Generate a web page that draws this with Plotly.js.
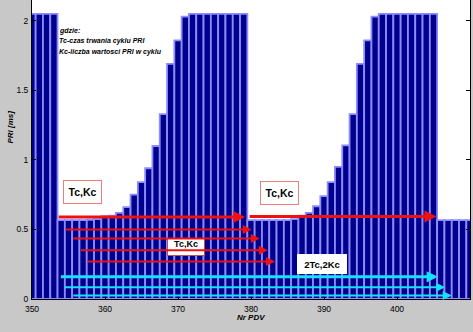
<!DOCTYPE html>
<html>
<head>
<meta charset="utf-8">
<script src="https://cdn.plot.ly/plotly-3.0.1.min.js"></script>
<style>html,body{margin:0;padding:0;background:#c8c8c8;}#chart{width:473px;height:332px;}</style>
</head>
<body>
<div id="chart"></div>
<script>
// PDV numbers (x categories)
var pdvNumbers = [350,351,352,353,354,355,356,357,358,359,
  360,361,362,363,364,365,366,367,368,369,
  370,371,372,373,374,375,376,377,378,379,
  380,381,382,383,384,385,386,387,388,389,
  390,391,392,393,394,395,396,397,398,399,
  400,401,402,403,404,405,406,407,408,409,410];
// PRI values [ms]
var priValues = [2.05,2.05,2.05,2.05,0.567,0.567,0.567,0.567,0.57,0.575,
  0.595,0.60,0.62,0.66,0.75,0.84,0.94,1.10,1.33,1.69,
  1.86,2.03,2.05,2.05,2.05,2.05,2.05,2.05,2.05,2.05,
  0.567,0.567,0.567,0.567,0.567,0.567,0.575,0.60,0.62,0.667,
  0.74,0.84,0.95,1.105,1.33,1.69,1.86,2.03,2.05,2.05,
  2.05,2.05,2.05,2.05,2.05,2.05,0.567,0.567,0.567,0.567,0.567];

var xTickVals = [350,360,370,380,390,400,410];
var xTickText = ['350','360','370','380','390','400','410'];
var yTickVals = [0,0.5,1,1.5,2];
var yTickText = ['0','0.5','1','1.5','2'];

// arrows: start x, end x (tip), level y
var redArrowStart = [353.45,379.6,354.4,355.45,356.5,357.4];
var redArrowEnd   = [379.2,405.4,380.1,381.2,382.3,383.3];
var redArrowY     = [0.59,0.593,0.50,0.435,0.35,0.27];
var redArrowWidth = [3,3,2,2,2,2];
var cyanArrowStart = [353.75,354.3,355.45];
var cyanArrowEnd   = [405.6,406.6,407.5];
var cyanArrowY     = [0.16,0.085,0.026];
var cyanArrowWidth = [3,2,2];

// text boxes
var boxText = ['Tc,Kc','Tc,Kc','Tc,Kc','2Tc,2Kc'];
var boxX = [356.9,383.97,371.1,389.66];
var boxY = [0.766,0.763,0.372,0.252];

var noteLines = ['gdzie:','Tc-czas trwania cyklu PRI','Kc-liczba wartosci PRI w cyklu'];

var trace = {
  type:'bar', x:pdvNumbers, y:priValues,
  marker:{color:'#00008c', line:{color:'#8c8cff', width:1.8}},
  hoverinfo:'none'
};

var annotations = [];
var boxW = [37,37,36,48], boxH = [22,22,16,18], boxFs = [10.5,10.5,9,9.5];
var boxVal = ['middle','middle','top','middle'];
var boxBorder = ['#e88080','#e88080','#c05050','#ffffff'];
for (var i=0;i<boxText.length;i++){
  annotations.push({xref:'x',yref:'y',x:boxX[i],y:boxY[i],text:'<b>'+boxText[i]+'</b>',
    showarrow:false,bgcolor:'#ffffff',bordercolor:boxBorder[i],borderwidth:1,borderpad:0,valign:boxVal[i],
    width:boxW[i],height:boxH[i],font:{family:'Arial',size:boxFs[i],color:'#000'}});
}
for (var i=0;i<redArrowStart.length;i++){
  annotations.push({xref:'x',yref:'y',axref:'x',ayref:'y',x:redArrowEnd[i],y:redArrowY[i],
    ax:redArrowStart[i],ay:redArrowY[i],text:'',showarrow:true,arrowhead:2,
    arrowsize:redArrowWidth[i]===3?0.8:0.9,arrowwidth:redArrowWidth[i],arrowcolor:'#f01010',standoff:0});
}
for (var i=0;i<cyanArrowStart.length;i++){
  annotations.push({xref:'x',yref:'y',axref:'x',ayref:'y',x:cyanArrowEnd[i],y:cyanArrowY[i],
    ax:cyanArrowStart[i],ay:cyanArrowY[i],text:'',showarrow:true,arrowhead:2,
    arrowsize:cyanArrowWidth[i]===3?0.75:0.9,arrowwidth:cyanArrowWidth[i],arrowcolor:'#18e0ff',standoff:0});
}
var noteY = [0.896,0.862,0.826];
for (var i=0;i<noteLines.length;i++){
  annotations.push({xref:'paper',yref:'paper',x:0.056,y:noteY[i],xanchor:'left',yanchor:'middle',align:'left',
    text:'<b><i>'+noteLines[i]+'</i></b>',showarrow:false,font:{family:'Arial',size:7,color:'#000'}});
}
annotations.push({xref:'paper',yref:'paper',x:0.5,y:-0.062,xanchor:'center',yanchor:'middle',
  text:'<b><i>Nr PDV</i></b>',showarrow:false,font:{family:'Arial',size:8,color:'#000'}});
annotations.push({xref:'paper',yref:'y',x:-0.048,y:1.24,xanchor:'center',yanchor:'middle',textangle:-90,
  text:'<b><i>PRI [ms]</i></b>',showarrow:false,font:{family:'Arial',size:8,color:'#000'}});

var layout = {
  width:473, height:332,
  margin:{l:32,r:3,t:0,b:33,pad:0},
  paper_bgcolor:'#c8c8c8', plot_bgcolor:'#ffffff',
  bargap:0, showlegend:false,
  xaxis:{range:[350,410],tickvals:xTickVals,ticktext:xTickText,ticks:'inside',ticklen:4,tickcolor:'#000',
    showline:true,linecolor:'#000',linewidth:1,zeroline:false,showgrid:false,ticklabelstandoff:2,
    tickfont:{family:'Arial',size:8.5,color:'#000'}},
  yaxis:{range:[0,2.15],tickvals:yTickVals,ticktext:yTickText,ticks:'inside',ticklen:4,tickcolor:'#000',
    showline:true,linecolor:'#000',linewidth:1,mirror:'ticks',zeroline:false,showgrid:false,ticklabelstandoff:1,
    tickfont:{family:'Arial',size:8.5,color:'#000'}},
  annotations:annotations
};
Plotly.newPlot('chart',[trace],layout,{displayModeBar:false,staticPlot:true});
</script>
</body>
</html>
